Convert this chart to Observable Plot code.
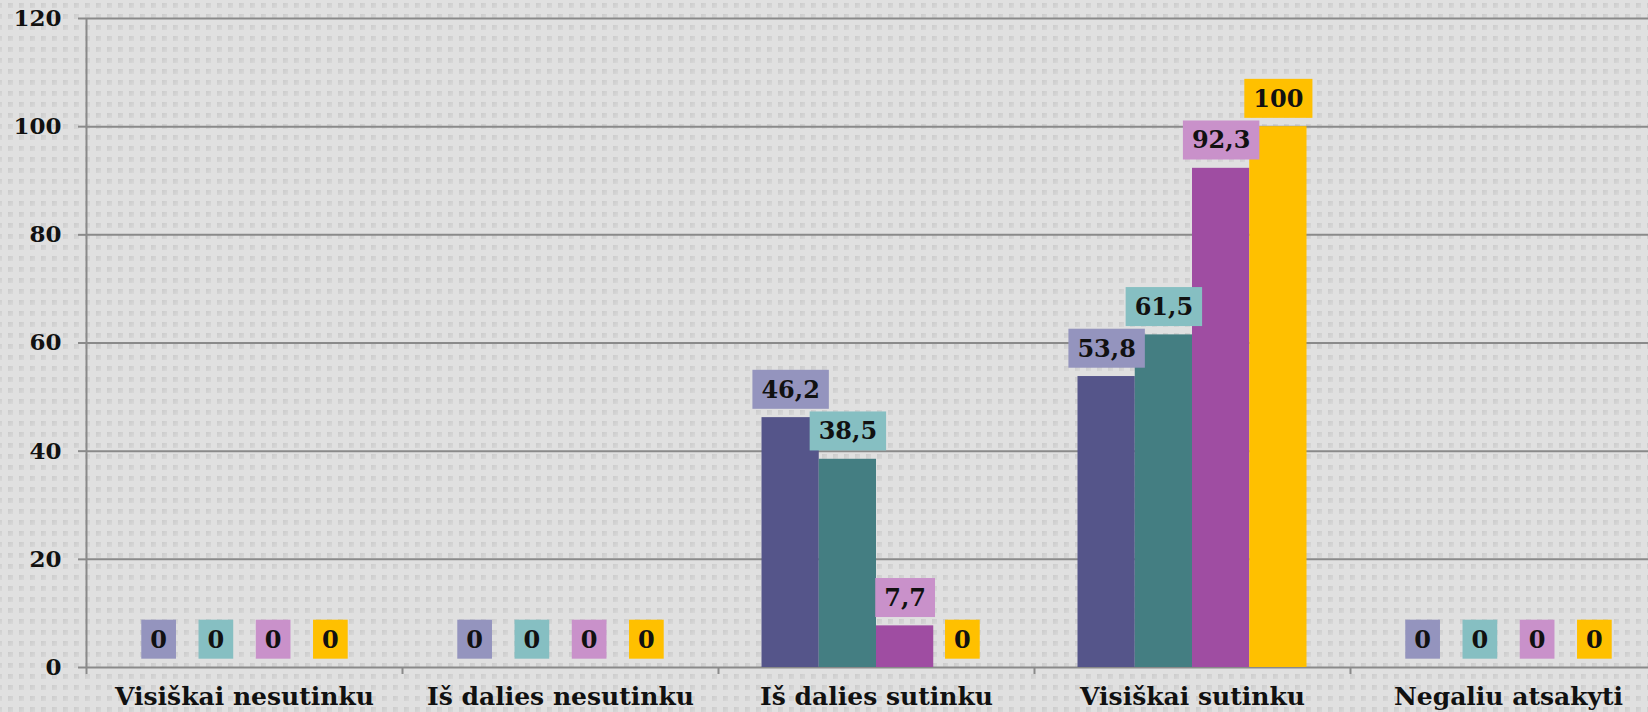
<!DOCTYPE html>
<html>
<head>
<meta charset="utf-8">
<script src="https://cdn.jsdelivr.net/npm/d3@7"></script>
<script src="https://cdn.jsdelivr.net/npm/@observablehq/plot@0.6"></script>
<style>
  html, body { margin: 0; padding: 0; overflow: hidden; width: 1648px; height: 712px; }
  body {
    background-color: #e0e0e0;
    background-image: url("data:image/svg+xml,%3Csvg xmlns='http://www.w3.org/2000/svg' width='11' height='11'%3E%3Cdefs%3E%3ClinearGradient id='g' x1='0' y1='0' x2='1' y2='1'%3E%3Cstop offset='0' stop-color='%23cbcbcb'/%3E%3Cstop offset='1' stop-color='%23d9d9d9'/%3E%3C/linearGradient%3E%3C/defs%3E%3Crect x='0' y='0' width='5' height='5' fill='url(%23g)'/%3E%3C/svg%3E");
    background-position: 8px 3px;
  }
  svg { background: transparent !important; max-width: none !important; display: block; }
</style>
</head>
<body>
<div id="chart"></div>
<script>
// ---- data ----
const categories = ["Visiškai nesutinku", "Iš dalies nesutinku", "Iš dalies sutinku", "Visiškai sutinku", "Negaliu atsakyti"];
const seriesNames = ["Serija 1", "Serija 2", "Serija 3", "Serija 4"];
const series1 = [0, 0, 46.2, 53.8, 0];
const series2 = [0, 0, 38.5, 61.5, 0];
const series3 = [0, 0, 7.7, 92.3, 0];
const series4 = [0, 0, 0, 100, 0];
const yTicks = [0, 20, 40, 60, 80, 100, 120];

// ---- styles ----
const barColors = ["#55558a", "#447e82", "#9f4da2", "#ffc000"];
const boxColors = ["#9494be", "#86bfc2", "#c991ca", "#ffc000"];
const gridColor = "#8a8a8a";
const font = "DejaVu Serif";

const allSeries = [series1, series2, series3, series4];
// inner band layout of the four bars within one category
const inner = d3.scaleBand().domain(seriesNames).range([0, 1]).paddingInner(0).paddingOuter(0.76);

const rows = [];
categories.forEach((cat, g) => {
  seriesNames.forEach((s, si) => {
    const x1 = g + inner(s);
    rows.push({cat, series: s, si, value: allSeries[si][g], x1, x2: x1 + inner.bandwidth(), xc: x1 + inner.bandwidth() / 2});
  });
});

const fmt = v => String(v).replace(".", ",");

const chart = Plot.plot({
  width: 1666,
  height: 712,
  marginLeft: 86,
  marginRight: 0,
  marginTop: 18,
  marginBottom: 45,
  style: {background: "transparent", maxWidth: "none", fontFamily: font, fontWeight: "bold", fontSize: "23px", color: "#111"},
  x: {domain: [0, categories.length], axis: null},
  y: {domain: [0, 120], axis: null},
  color: {domain: seriesNames, range: barColors},
  marks: [
    Plot.ruleY(yTicks, {stroke: gridColor, strokeWidth: 2}),
    Plot.axisY({ticks: yTicks, label: null, tickSize: 8, tickPadding: 17, stroke: gridColor, strokeWidth: 2, fontSize: 23, fontWeight: "bold", fill: "#111", tickFormat: d => String(d)}),
    Plot.ruleX([0], {stroke: gridColor, strokeWidth: 2, insetBottom: -7}),
    Plot.ruleX(d3.range(1, categories.length), {y1: 0, y2: 0, stroke: gridColor, strokeWidth: 2, insetBottom: -7}),
    Plot.axisX({ticks: categories.map((c, i) => i + 0.5), label: null, tickFormat: d => categories[Math.floor(d)], tickSize: 0, tickPadding: 20, fontSize: 25, fontWeight: "bold", fill: "#111"}),
    Plot.rectY(rows, {x1: "x1", x2: "x2", y1: 0, y2: "value", fill: "series"}),
    Plot.text(rows, {x: "xc", y: "value", text: d => fmt(d.value), dy: -27.5, lineAnchor: "middle", fontSize: 24, fontWeight: "bold", fill: "#111"})
  ]
});

document.getElementById("chart").append(chart);

// label background boxes, sized from the rendered label text
const svgns = "http://www.w3.org/2000/svg";
const labelGroup = chart.querySelector('g[aria-label="text"]');
if (labelGroup) {
  const texts = Array.from(labelGroup.querySelectorAll("text"));
  texts.forEach((t, i) => {
    const b = t.getBBox();
    const r = document.createElementNS(svgns, "rect");
    const cy = b.y + b.height / 2;
    r.setAttribute("x", b.x - 9);
    r.setAttribute("width", b.width + 18);
    r.setAttribute("y", cy - 19.5);
    r.setAttribute("height", 39);
    r.setAttribute("fill", boxColors[rows[i].si]);
    if (t.getAttribute("transform")) r.setAttribute("transform", t.getAttribute("transform"));
    labelGroup.insertBefore(r, t);
  });
}
</script>
</body>
</html>
